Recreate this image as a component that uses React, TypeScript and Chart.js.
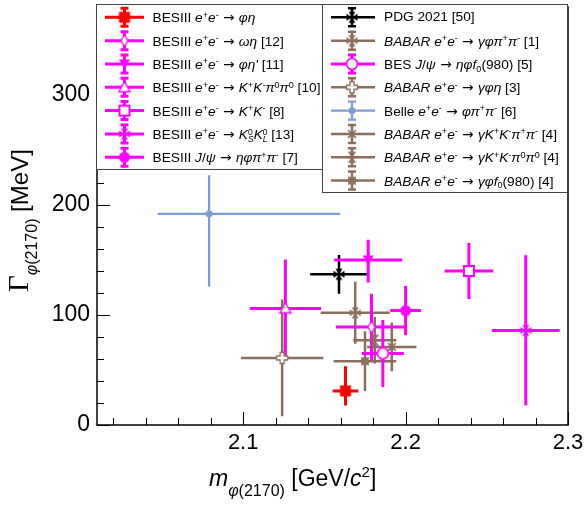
import React, { useEffect, useRef } from 'react';
import { Chart, registerables } from 'chart.js';

Chart.register(...registerables);

// ---------------- data ----------------
const seriesKeys = [
  'BESIII e+e- -> phi eta',
  'BESIII e+e- -> omega eta [12]',
  "BESIII e+e- -> phi eta' [11]",
  'BESIII e+e- -> K+K-pi0pi0 [10]',
  'BESIII e+e- -> K+K- [8]',
  'BESIII e+e- -> KsKl [13]',
  'BESIII J/psi -> eta phi pi+pi- [7]',
  'PDG 2021 [50]',
  'BABAR e+e- -> gamma phi pi+pi- [1]',
  'BES J/psi -> eta phi f0(980) [5]',
  'BABAR e+e- -> gamma phi eta [3]',
  'Belle e+e- -> phi pi+pi- [6]',
  'BABAR e+e- -> gamma K+K-pi+pi- [4]',
  'BABAR e+e- -> gamma K+K-pi0pi0 [4]',
  'BABAR e+e- -> gamma phi f0(980) [4]',
];
const massValues = [2.163, 2.179, 2.177, 2.126, 2.239, 2.274, 2.200, 2.159, 2.169, 2.186, 2.124, 2.079, 2.1915, 2.181, 2.175];
const widthValues = [31, 89, 150, 106, 140, 86, 104, 137, 102, 65, 61, 192, 71, 77, 58];
const massErrLow = [0.007, 0.021, 0.020, 0.021, 0.014, 0.020, 0.0085, 0.017, 0.0205, 0.012, 0.0246, 0.031, 0.0144, 0.0125, 0.0185];
const massErrHigh = [0.007, 0.021, 0.020, 0.021, 0.014, 0.020, 0.0085, 0.017, 0.0205, 0.012, 0.0246, 0.080, 0.0144, 0.0125, 0.0185];
const widthErrLow = [12, 29, 19, 43, 24, 67, 21, 16.5, 27, 29, 52, 65, 21, 20, 26];
const widthErrHigh = [21, 29, 17, 43, 24, 67, 21, 16.5, 27, 29, 52, 34, 21, 20, 26];

const xTickValues = [2.1, 2.2, 2.3];
const xMinorTicks = [2.02, 2.04, 2.06, 2.08, 2.12, 2.14, 2.16, 2.18, 2.22, 2.24, 2.26, 2.28];
const yTickValues = [0, 100, 200, 300];
const yMinorTicks = [20, 40, 60, 80, 120, 140, 160, 180, 220, 240, 260, 280, 320, 340, 360];

// ---------------- styles ----------------
const RED = '#ff0000';
const MAG = '#ff00ff';
const BROWN = '#8c6e5e';
const BLUE = '#7d9bd6';
const BLACK = '#000000';

const seriesColor = [RED, MAG, MAG, MAG, MAG, MAG, MAG, BLACK, BROWN, MAG, BROWN, BLUE, BROWN, BROWN, BROWN];
const seriesMarker = [
  'squareFilled', 'diamondOpen', 'triDownFilled', 'triUpOpen', 'squareOpen', 'fourTri', 'circleFilled',
  'fourTri', 'fourTri', 'circleOpen', 'crossOpen', 'circleSmall', 'asterisk', 'hourglass', 'star8',
];
const seriesLineWidth = [3, 3, 3, 3, 3, 3, 3, 2.5, 2.5, 3, 2.5, 2.2, 2.5, 2.5, 2.5];

function makeMarker(kind: string, color: string): HTMLCanvasElement {
  const S = 16;
  const c = document.createElement('canvas');
  c.width = S;
  c.height = S;
  const g = c.getContext('2d') as CanvasRenderingContext2D;
  const m = S / 2;
  g.fillStyle = color;
  g.strokeStyle = color;
  g.lineWidth = 1.5;
  const poly = (pts: number[][]) => {
    g.beginPath();
    pts.forEach((p, i) => (i ? g.lineTo(m + p[0], m + p[1]) : g.moveTo(m + p[0], m + p[1])));
    g.closePath();
  };
  switch (kind) {
    case 'squareFilled':
      g.fillRect(m - 5.5, m - 5.5, 11, 11);
      break;
    case 'squareOpen':
      g.fillStyle = '#fff';
      g.fillRect(m - 5, m - 5, 10, 10);
      g.lineWidth = 2;
      g.strokeRect(m - 5, m - 5, 10, 10);
      break;
    case 'circleFilled':
      g.beginPath();
      g.arc(m, m, 5.5, 0, Math.PI * 2);
      g.fill();
      break;
    case 'circleOpen':
      g.beginPath();
      g.arc(m, m, 5.5, 0, Math.PI * 2);
      g.fillStyle = '#fff';
      g.fill();
      g.lineWidth = 1.6;
      g.stroke();
      break;
    case 'circleSmall':
      g.beginPath();
      g.arc(m, m, 3.5, 0, Math.PI * 2);
      g.fill();
      break;
    case 'diamondOpen':
      poly([[0, -6], [3.5, 0], [0, 6], [-3.5, 0]]);
      g.fillStyle = '#fff';
      g.fill();
      g.lineWidth = 1.3;
      g.stroke();
      break;
    case 'triDownFilled':
      poly([[-5.5, -4.5], [5.5, -4.5], [0, 5]]);
      g.fill();
      break;
    case 'triUpOpen':
      poly([[0, -6], [5.5, 4.5], [-5.5, 4.5]]);
      g.fillStyle = '#fff';
      g.fill();
      g.lineWidth = 1.4;
      g.stroke();
      break;
    case 'crossOpen':
      poly([[-2, -5.5], [2, -5.5], [2, -2], [5.5, -2], [5.5, 2], [2, 2], [2, 5.5], [-2, 5.5], [-2, 2], [-5.5, 2], [-5.5, -2], [-2, -2]]);
      g.fillStyle = '#fff';
      g.fill();
      g.lineWidth = 1.3;
      g.stroke();
      break;
    case 'asterisk':
      g.lineWidth = 1.6;
      for (let k = 0; k < 4; k++) {
        const a = (k * Math.PI) / 4;
        g.beginPath();
        g.moveTo(m - 5.5 * Math.cos(a), m - 5.5 * Math.sin(a));
        g.lineTo(m + 5.5 * Math.cos(a), m + 5.5 * Math.sin(a));
        g.stroke();
      }
      break;
    case 'hourglass':
      poly([[-4.5, -5.5], [4.5, -5.5], [0, 0]]);
      g.fill();
      poly([[-4.5, 5.5], [4.5, 5.5], [0, 0]]);
      g.fill();
      g.fillRect(m - 5, m - 1, 10, 2);
      break;
    case 'fourTri':
      poly([[-3.5, -5.5], [3.5, -5.5], [0, 0]]);
      g.fill();
      poly([[-3.5, 5.5], [3.5, 5.5], [0, 0]]);
      g.fill();
      poly([[-5.5, -3.5], [-5.5, 3.5], [0, 0]]);
      g.fill();
      poly([[5.5, -3.5], [5.5, 3.5], [0, 0]]);
      g.fill();
      break;
    case 'star8': {
      const pts: number[][] = [];
      for (let k = 0; k < 16; k++) {
        const r = k % 2 === 0 ? 6 : 3.8;
        const a = (k * Math.PI) / 8 - Math.PI / 2;
        pts.push([r * Math.cos(a), r * Math.sin(a)]);
      }
      poly(pts);
      g.fill();
      break;
    }
  }
  return c;
}

// legend layout (left column: series 0..6, right column: 7..14)
const LEG_ROW0 = 17.3;
const LEG_DY = 23.33;

const EE = () => (
  <>
    <i>e</i>
    <sup>+</sup>
    <i>e</i>
    <sup>-</sup>
  </>
);
const Arrow = () => <span className="arr">&nbsp;→&nbsp;</span>;

const legendLeft = [
  <>BESIII <EE /><Arrow /><i>φη</i></>,
  <>BESIII <EE /><Arrow /><i>ωη</i> [12]</>,
  <>BESIII <EE /><Arrow /><i>φη'</i> [11]</>,
  <>BESIII <EE /><Arrow /><i>K</i><sup>+</sup><i>K</i><sup>-</sup><i>π</i><sup>0</sup><i>π</i><sup>0</sup> [10]</>,
  <>BESIII <EE /><Arrow /><i>K</i><sup>+</sup><i>K</i><sup>-</sup> [8]</>,
  <>BESIII <EE /><Arrow /><i>K</i><span className="stk"><span>0</span><span><i>S</i></span></span><i>K</i><span className="stk"><span>0</span><span><i>L</i></span></span> [13]</>,
  <>BESIII <i>J</i>/<i>ψ</i><Arrow /><i>ηφπ</i><sup>+</sup><i>π</i><sup>-</sup> [7]</>,
];
const legendRight = [
  <>PDG 2021 [50]</>,
  <><i>BABAR</i> <EE /><Arrow /><i>γφπ</i><sup>+</sup><i>π</i><sup>-</sup> [1]</>,
  <>BES <i>J</i>/<i>ψ</i><Arrow /><i>ηφf</i><sub>0</sub>(980) [5]</>,
  <><i>BABAR</i> <EE /><Arrow /><i>γφη</i> [3]</>,
  <>Belle <EE /><Arrow /><i>φπ</i><sup>+</sup><i>π</i><sup>-</sup> [6]</>,
  <><i>BABAR</i> <EE /><Arrow /><i>γK</i><sup>+</sup><i>K</i><sup>-</sup><i>π</i><sup>+</sup><i>π</i><sup>-</sup> [4]</>,
  <><i>BABAR</i> <EE /><Arrow /><i>γK</i><sup>+</sup><i>K</i><sup>-</sup><i>π</i><sup>0</sup><i>π</i><sup>0</sup> [4]</>,
  <><i>BABAR</i> <EE /><Arrow /><i>γφf</i><sub>0</sub>(980) [4]</>,
];

const FONT = "'Liberation Sans', Arial, sans-serif";

export default function App() {
  const ref = useRef<HTMLCanvasElement | null>(null);

  useEffect(() => {
    const canvas = ref.current;
    if (!canvas) return;
    const markers = seriesMarker.map((k, i) => makeMarker(k, seriesColor[i]));

    const errorBars = {
      id: 'errorBars',
      beforeDatasetsDraw(chart: any) {
        const { ctx, scales } = chart;
        const xs = scales.x;
        const ys = scales.y;
        ctx.save();
        ctx.lineCap = 'square';
        for (let i = massValues.length - 1; i >= 0; i--) {
          const px = xs.getPixelForValue(massValues[i]);
          const py = ys.getPixelForValue(widthValues[i]);
          ctx.strokeStyle = seriesColor[i];
          ctx.lineWidth = seriesLineWidth[i];
          ctx.beginPath();
          ctx.moveTo(xs.getPixelForValue(massValues[i] - massErrLow[i]), py);
          ctx.lineTo(xs.getPixelForValue(massValues[i] + massErrHigh[i]), py);
          ctx.moveTo(px, ys.getPixelForValue(widthValues[i] + widthErrHigh[i]));
          ctx.lineTo(px, ys.getPixelForValue(widthValues[i] - widthErrLow[i]));
          ctx.stroke();
        }
        ctx.restore();
      },
    };

    const frameTicks = {
      id: 'frameTicks',
      afterDatasetsDraw(chart: any) {
        const { ctx, chartArea, scales } = chart;
        const xs = scales.x;
        const ys = scales.y;
        ctx.save();
        ctx.strokeStyle = '#000';
        ctx.lineWidth = 1;
        ctx.beginPath();
        const b = chartArea.bottom;
        const l = chartArea.left;
        xTickValues.forEach((v) => {
          const p = Math.round(xs.getPixelForValue(v)) + 0.5;
          ctx.moveTo(p, b);
          ctx.lineTo(p, b - 13);
        });
        xMinorTicks.forEach((v) => {
          const p = Math.round(xs.getPixelForValue(v)) + 0.5;
          ctx.moveTo(p, b);
          ctx.lineTo(p, b - 7);
        });
        yTickValues.forEach((v) => {
          const p = Math.round(ys.getPixelForValue(v)) + 0.5;
          ctx.moveTo(l, p);
          ctx.lineTo(l + 13, p);
        });
        yMinorTicks.forEach((v) => {
          const p = Math.round(ys.getPixelForValue(v)) + 0.5;
          ctx.moveTo(l, p);
          ctx.lineTo(l + 7, p);
        });
        ctx.stroke();
        ctx.lineWidth = 1.5;
        ctx.strokeRect(chartArea.left, chartArea.top, chartArea.right - chartArea.left, chartArea.bottom - chartArea.top);
        ctx.restore();
      },
      afterDraw(chart: any) {
        const { ctx } = chart;
        ctx.save();
        // legend boxes
        ctx.fillStyle = '#fff';
        ctx.strokeStyle = '#444';
        ctx.lineWidth = 1;
        ctx.fillRect(96.5, 4.5, 226, 165);
        ctx.strokeRect(96.5, 4.5, 226, 165);
        ctx.fillRect(322.5, 4.5, 245, 188);
        ctx.strokeRect(322.5, 4.5, 245, 188);
        const drawSym = (i: number, x0: number, x1: number, cx: number, cy: number) => {
          ctx.strokeStyle = seriesColor[i];
          ctx.lineWidth = seriesLineWidth[i];
          ctx.lineCap = 'butt';
          ctx.beginPath();
          ctx.moveTo(x0, cy);
          ctx.lineTo(x1, cy);
          ctx.moveTo(cx, cy - 9);
          ctx.lineTo(cx, cy + 9);
          ctx.moveTo(cx - 4, cy - 9);
          ctx.lineTo(cx + 4, cy - 9);
          ctx.moveTo(cx - 4, cy + 9);
          ctx.lineTo(cx + 4, cy + 9);
          ctx.stroke();
          const mk = markers[i];
          ctx.drawImage(mk, cx - mk.width / 2, cy - mk.height / 2);
        };
        for (let r = 0; r < 7; r++) drawSym(r, 105, 144, 124.5, LEG_ROW0 + r * LEG_DY);
        for (let r = 0; r < 8; r++) drawSym(7 + r, 331, 375, 352, LEG_ROW0 + r * LEG_DY);
        ctx.restore();
      },
    };

    const chart = new Chart(canvas, {
      type: 'scatter',
      data: {
        datasets: seriesKeys.map((k, i) => ({
          label: k,
          data: [{ x: massValues[i], y: widthValues[i] }],
          pointStyle: markers[i] as any,
          pointRadius: 6,
          showLine: false,
        })),
      },
      options: {
        responsive: false,
        animation: false,
        layout: { padding: { left: 0, right: 18, top: 5, bottom: 0 } },
        plugins: { legend: { display: false }, tooltip: { enabled: false } },
        scales: {
          x: {
            type: 'linear',
            min: 2.01,
            max: 2.3,
            grid: { display: false, drawTicks: false },
            border: { display: false },
            ticks: { font: { family: FONT, size: 22 }, color: '#000', padding: 5, maxRotation: 0, autoSkip: false, callback: (v: any) => Number(v).toFixed(1) },
            afterBuildTicks: (s: any) => {
              s.ticks = xTickValues.map((v) => ({ value: v }));
            },
            afterFit: (s: any) => {
              s.height = 83;
              s.paddingLeft = 0;
              s.paddingRight = 0;
            },
          },
          y: {
            type: 'linear',
            min: 0,
            max: 380,
            grid: { display: false, drawTicks: false },
            border: { display: false },
            ticks: { font: { family: FONT, size: 23 }, color: '#000', padding: 7, autoSkip: false, callback: (v: any) => String(v) },
            afterBuildTicks: (s: any) => {
              s.ticks = yTickValues.map((v) => ({ value: v }));
            },
            afterFit: (s: any) => {
              s.width = 97;
              s.paddingTop = 0;
              s.paddingBottom = 0;
            },
          },
        },
      } as any,
      plugins: [errorBars, frameTicks],
    });
    return () => chart.destroy();
  }, []);

  const rowStyle = (left: number, r: number): React.CSSProperties => ({
    position: 'absolute',
    left,
    top: LEG_ROW0 + r * LEG_DY - 8,
    height: 16,
    lineHeight: '16px',
    fontSize: 13.7,
    fontFamily: FONT,
    whiteSpace: 'nowrap',
    color: '#000',
  });

  return (
    <div style={{ position: 'absolute', left: 0, top: 0, width: 586, height: 508, overflow: 'hidden', background: '#fff' }}>
      <style>{`
        .lg sup { font-size: 0.66em; vertical-align: baseline; position: relative; top: -0.5em; line-height: 0; }
        .lg sub { font-size: 0.66em; vertical-align: baseline; position: relative; top: 0.3em; line-height: 0; }
        .lg .stk { display: inline-block; font-size: 0.62em; line-height: 0.85em; vertical-align: -0.35em; text-align: left; }
        .lg .stk > span { display: block; }
        .lg .arr { font-family: 'DejaVu Sans', sans-serif; font-size: 1em; }
      `}</style>
      <canvas ref={ref} width={586} height={508} style={{ position: 'absolute', left: 0, top: 0 }} />
      {legendLeft.map((t, r) => (
        <div key={'l' + r} className="lg" style={rowStyle(152.5, r)}>
          {t}
        </div>
      ))}
      {legendRight.map((t, r) => (
        <div key={'r' + r} className="lg" style={rowStyle(384, r)}>
          {t}
        </div>
      ))}
      <div
        style={{
          position: 'absolute',
          left: 3,
          top: 292,
          transform: 'rotate(-90deg)',
          transformOrigin: 'left top',
          whiteSpace: 'nowrap',
          lineHeight: '30px',
          height: 30,
          fontFamily: FONT,
          fontSize: 24,
          color: '#000',
        }}
      >
        <span style={{ fontFamily: "'Liberation Serif', serif", fontSize: 29 }}>Γ</span>
        <span style={{ fontSize: 16, position: 'relative', top: 9, lineHeight: 0 }}>
          <i>φ</i>(2170)
        </span>
        <span> [MeV]</span>
      </div>
      <div
        style={{
          position: 'absolute',
          left: 209,
          top: 465,
          whiteSpace: 'nowrap',
          lineHeight: '26px',
          fontFamily: FONT,
          fontSize: 23,
          color: '#000',
        }}
      >
        <i>m</i>
        <span style={{ fontSize: 16, position: 'relative', top: 10, lineHeight: 0 }}>
          <i>φ</i>(2170)
        </span>
        <span> [GeV/<i>c</i><span style={{ fontSize: 15, position: 'relative', top: -9, lineHeight: 0 }}>2</span>]</span>
      </div>
    </div>
  );
}
